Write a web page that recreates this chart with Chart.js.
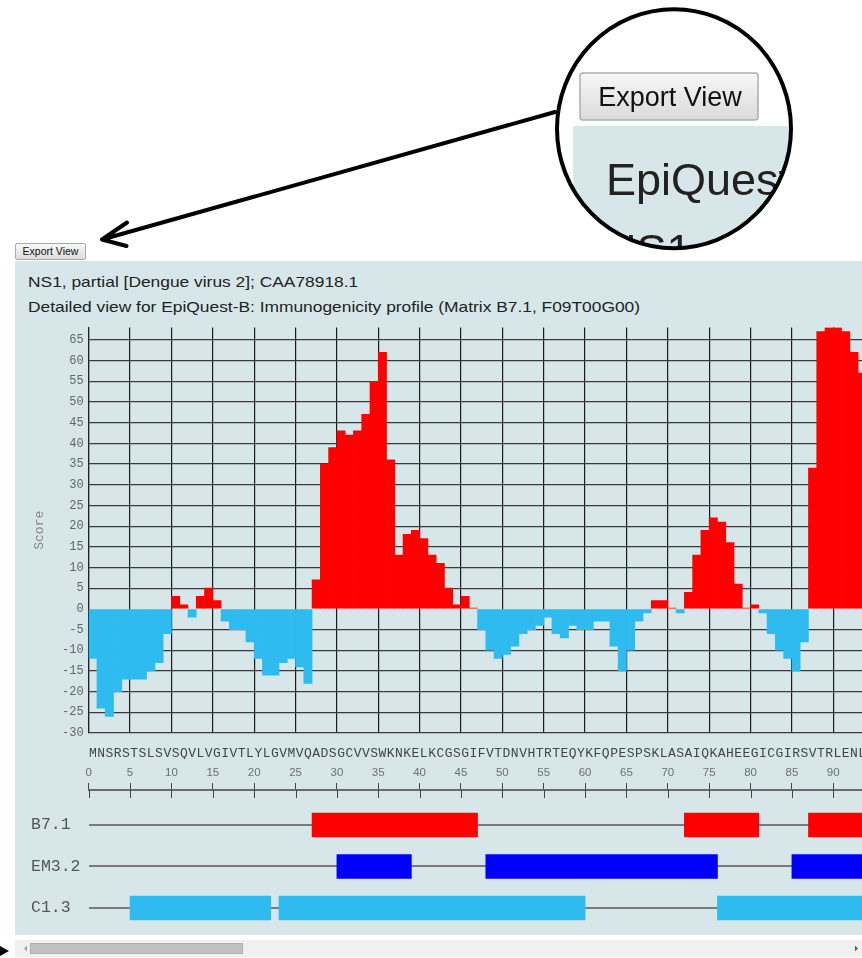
<!DOCTYPE html>
<html>
<head>
<meta charset="utf-8">
<script src="https://cdn.jsdelivr.net/npm/chart.js@4.4.1/dist/chart.umd.min.js"></script>
<style>
html,body{margin:0;padding:0;overflow:hidden;background:#fff;}
#page{position:relative;width:862px;height:958px;overflow:hidden;font-family:Arial,"Liberation Sans",sans-serif;}
#panel{position:absolute;left:15px;top:261px;width:880px;height:674px;background:#d7e7e9;}
.title{position:absolute;left:28px;font-size:15px;line-height:17px;color:#222;white-space:nowrap;transform-origin:0 50%;}
#btn{position:absolute;left:15px;top:243px;width:71px;height:17px;box-sizing:border-box;border:1px solid #a9a9a9;border-radius:2px;background:linear-gradient(#f8f8f8,#dcdcdc);font-size:10.5px;line-height:15px;text-align:center;color:#111;white-space:nowrap;}
.cv{position:absolute;left:15px;}
#scroll{position:absolute;left:15px;top:940px;width:880px;height:17px;background:#f0f0f0;}
#thumb{position:absolute;left:15px;top:3px;width:213px;height:11px;background:#c1c1c1;border:1px solid #b0b0b0;box-sizing:border-box;}
#overlay{position:absolute;left:0;top:0;pointer-events:none;}
</style>
</head>
<body>
<div id="page">
  <div id="btn">Export View</div>
  <div id="panel"></div>
  <div class="title" id="t1" style="top:273px;">NS1, partial [Dengue virus 2]; CAA78918.1</div>
  <div class="title" id="t2" style="top:298px;">Detailed view for EpiQuest-B: Immunogenicity profile (Matrix B7.1, F09T00G00)</div>
  <canvas id="c1" class="cv" style="top:320px;" width="901" height="439"></canvas>
  <canvas id="c2" class="cv" style="top:760px;" width="901" height="175"></canvas>
  <div id="scroll">
    <svg width="880" height="17" style="position:absolute;left:0;top:0">
      <polygon points="9,8.5 12,5.5 12,11.5" fill="#a0a0a0"/>
      <polygon points="840,5.5 843,8.5 840,11.5" fill="#606060"/>
    </svg>
    <div id="thumb"></div>
  </div>
  <svg id="overlay" width="862" height="958">
    <defs>
      <clipPath id="lens"><ellipse cx="674" cy="128.7" rx="117" ry="119.5"/></clipPath>
      <linearGradient id="bg1" x1="0" y1="0" x2="0" y2="1">
        <stop offset="0" stop-color="#f7f7f7"/><stop offset="1" stop-color="#dadada"/>
      </linearGradient>
    </defs>
    <g clip-path="url(#lens)">
      <rect x="550" y="0" width="260" height="260" fill="#fff"/>
      <rect x="580" y="73" width="178" height="47" rx="3" fill="url(#bg1)" stroke="#adadad" stroke-width="1.5"/>
      <text x="670" y="106" font-size="27" text-anchor="middle" font-family="Arial, 'Liberation Sans', sans-serif" fill="#111">Export View</text>
      <rect x="573" y="126" width="240" height="140" fill="#d7e7e9"/>
      <text x="606" y="195" font-size="45" font-family="Arial, 'Liberation Sans', sans-serif" fill="#222">EpiQuest</text>
      <text x="604" y="266" font-size="45" font-family="Arial, 'Liberation Sans', sans-serif" fill="#222">NS1</text>
    </g>
    <ellipse cx="674" cy="128.7" rx="117" ry="119.5" fill="none" stroke="#000" stroke-width="4"/>
    <path d="M555 112 L102 239.5 M127 222.5 L102 239.5 L126.5 246" stroke="#000" stroke-width="4" fill="none" stroke-linecap="round" stroke-linejoin="round"/>
    <polygon points="0,946 9,951 0,956" fill="#000"/>
  </svg>
</div>
<script>
// ---- data ----
const seqLetters = [...'MNSRSTSLSVSQVLVGIVTLYLGVMVQADSGCVVSWKNKELKCGSGIFVTDNVHTRTEQYKFQPESPSKLASAIQKAHEEGICGIRSVTRLENL'];
const scores = [
  -12, -24, -26, -20, -17, -17, -17, -15, -13, -6,
    3,   1,  -2,   3,   5,   2,  -3,  -5,  -5, -8,
  -12, -16, -16, -13, -12, -14, -18,   7,  35, 39,
   43,  42,  43,  47,  55,  62,  36,  13,  18, 19,
   17,  13,  11,   5,   1,   3, 0.2,  -5, -10, -12,
  -11,  -9,  -6,  -5,  -4,  -2,  -6,  -7,  -4, -5,
   -5,  -3,  -3,  -9, -15, -10,  -3,  -1,   2,  2,
  0.2,  -1,   4,  13,  19,  22,  21,  16,   6, 0.2,
    1,  -1,  -6, -10, -12, -15,  -8,  34,  67, 68,
   68,  67,  62,  57
];
const trackNames = ['B7.1', 'EM3.2', 'C1.3'];
const trackB71 = [[27, 47], [72, 81], [87, 100]];
const trackEM32 = [[30, 39], [48, 76], [85, 100]];
const trackC13 = [[5, 22], [23, 60], [76, 100]];
const trackColors = ['#ff0000', '#0000ff', '#2ebcf0'];

// ---- title width fit (screenshot is slightly stretched horizontally) ----
(function(){
  const t2 = document.getElementById('t2'), t1 = document.getElementById('t1');
  const w = t2.getBoundingClientRect().width;
  const k = 612 / w;
  t1.style.transform = t2.style.transform = 'scaleX(' + k + ')';
})();

// ---- styling ----
const mono = '"Courier New", "Liberation Mono", monospace';
const sans = 'Arial, "Liberation Sans", sans-serif';
const posColor = '#ff0000', negColor = '#2ebcf0';

function zeroPad(s){ s.paddingLeft = 0; s.paddingRight = 0; s.paddingTop = 0; s.paddingBottom = 0; }

new Chart(document.getElementById('c1'), {
  type: 'bar',
  data: {
    datasets: [{
      data: scores.map((v, i) => ({x: i + 0.5, y: v})),
      backgroundColor: scores.map(v => v >= 0 ? posColor : negColor),
      borderWidth: 0,
      barPercentage: 1,
      categoryPercentage: 1,
      xAxisID: 'x', yAxisID: 'y'
    }]
  },
  options: {
    responsive: false, animation: false, events: [], devicePixelRatio: 1,
    layout: {padding: {top: 7.5, left: 0, right: 0, bottom: 0}},
    plugins: {legend: {display: false}, tooltip: {enabled: false}},
    scales: {
      x: {
        type: 'linear', position: 'bottom', min: 0, max: 100, weight: 2, offset: false,
        afterFit: s => { s.height = 0; zeroPad(s); },
        ticks: {display: false, stepSize: 5},
        grid: {color: '#1c1c1c', lineWidth: 1.2, drawTicks: false, offset: false},
        border: {display: false}
      },
      xs: {
        type: 'linear', position: 'bottom', min: 0, max: 100, weight: 1, offset: false,
        afterBuildTicks: s => { s.ticks = seqLetters.map((c, i) => ({value: i + 0.5})); },
        afterFit: s => { s.height = 26; zeroPad(s); },
        ticks: {autoSkip: false, maxRotation: 0, minRotation: 0, padding: 5,
                font: {family: mono, size: 13}, color: '#444',
                callback: v => seqLetters[Math.round(v - 0.5)]},
        grid: {display: false, offset: false},
        border: {display: false}
      },
      y: {
        type: 'linear', position: 'left', min: -30, max: 68,
        afterFit: s => { s.width = 73.7; zeroPad(s); },
        ticks: {stepSize: 5, includeBounds: false, padding: 5,
                font: {family: mono, size: 12}, color: '#666'},
        grid: {color: c => (c.tick && c.tick.value === 0) ? 'rgba(0,0,0,0)' : '#3a3a3a',
               lineWidth: 1.2, drawTicks: false},
        border: {display: true, color: '#222', width: 1.2},
        title: {display: true, text: 'Score', font: {family: mono, size: 13}, color: '#888',
                padding: {top: 17, bottom: 0}}
      }
    }
  }
});

const rulerStubs = {
  id: 'rulerStubs',
  afterDraw(chart) {
    const s = chart.scales.x, ctx = chart.ctx;
    ctx.save();
    ctx.strokeStyle = '#444';
    ctx.lineWidth = 1;
    s.ticks.forEach(t => {
      const px = Math.round(s.getPixelForValue(t.value)) + 0.5;
      ctx.beginPath(); ctx.moveTo(px, s.bottom); ctx.lineTo(px, s.bottom + 8); ctx.stroke();
    });
    ctx.restore();
  }
};

const trackData = [trackB71, trackEM32, trackC13];
new Chart(document.getElementById('c2'), {
  type: 'bar',
  data: {
    datasets: trackData.map((ranges, ti) => ({
      data: ranges.map(r => ({x: r, y: ti})),
      backgroundColor: trackColors[ti],
      borderWidth: 0,
      barThickness: 24,
      grouped: false,
      xAxisID: 'x', yAxisID: 'y'
    }))
  },
  options: {
    indexAxis: 'y',
    responsive: false, animation: false, events: [], devicePixelRatio: 1,
    layout: {padding: {left: 16, top: 0, right: 0, bottom: 0}},
    plugins: {legend: {display: false}, tooltip: {enabled: false}},
    scales: {
      x: {
        type: 'linear', position: 'top', min: 0, max: 100, offset: false,
        afterFit: s => { s.height = 30; zeroPad(s); },
        ticks: {stepSize: 5, maxRotation: 0, autoSkip: false, padding: 3, includeBounds: false,
                font: {family: sans, size: 11.5}, color: '#6e6e6e'},
        grid: {drawOnChartArea: false, drawTicks: true, tickLength: 7, color: '#444', lineWidth: 1, offset: false},
        border: {display: true, color: '#6a6a6a', width: 2}
      },
      y: {
        type: 'linear', position: 'left', reverse: true, min: -0.843, max: 2.651, offset: false,
        afterBuildTicks: s => { s.ticks = trackNames.map((n, i) => ({value: i})); },
        afterFit: s => { s.width = 57.7; zeroPad(s); },
        ticks: {crossAlign: 'far', callback: v => trackNames[v],
                font: {family: mono, size: 16.5}, color: '#555'},
        grid: {color: '#7a7a7a', lineWidth: 2, drawTicks: false, offset: false},
        border: {display: false}
      }
    }
  },
  plugins: [rulerStubs]
});
</script>
</body>
</html>
